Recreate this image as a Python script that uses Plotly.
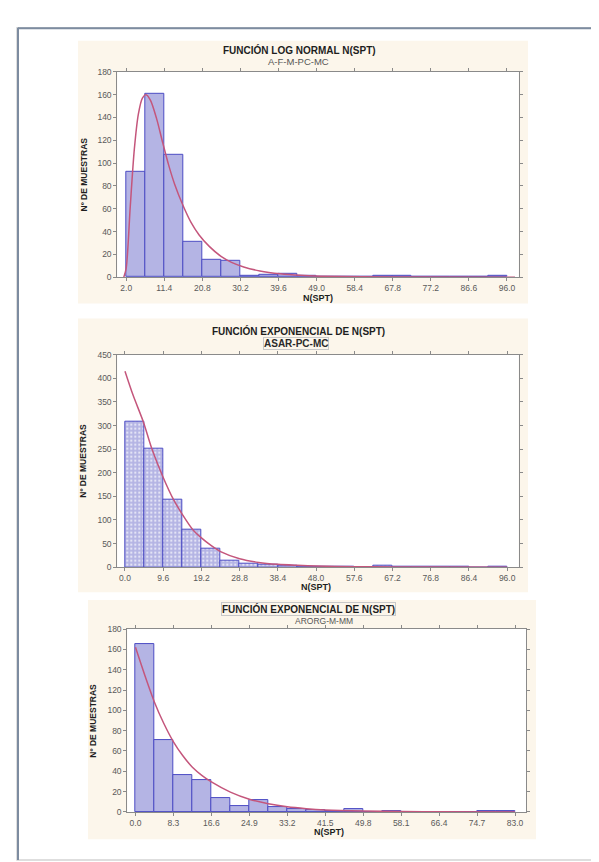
import plotly.graph_objects as go

# ---------------- data ----------------
# Panel 1: log-normal fit, A-F-M-PC-MC
p1_bin_left = [2.0, 6.7, 11.4, 16.1, 20.8, 25.5, 30.2, 34.9, 39.6, 44.3,
               49.0, 53.7, 58.4, 63.1, 67.8, 72.5, 77.2, 81.9, 86.6, 91.3]
p1_bin_width = 4.7
p1_counts = [92, 161, 107, 31, 15, 14, 1, 2, 3, 1, 0, 0, 0, 1, 1, 0, 0, 0, 0, 1]
p1_curve_x = [1.4, 2.0, 3.0, 4.0, 5.0, 6.0, 6.9, 8.0, 9.5, 11.0, 12.5, 14.0, 16.0,
              18.0, 20.0, 22.5, 25.5, 28.0, 31.0, 35.0, 40.0, 45.0, 50.0, 60.0, 75.0, 98.0]
p1_curve_y = [0, 8, 62, 112, 143, 157, 160, 155, 139, 118, 98, 81, 63,
              48, 37, 27, 18, 13, 9, 5.5, 3, 1.6, 0.9, 0.3, 0.1, 0]
p1_xticks = [2.0, 11.4, 20.8, 30.2, 39.6, 49.0, 58.4, 67.8, 77.2, 86.6, 96.0]

# Panel 2: exponential fit, ASAR-PC-MC
p2_bin_left = [0.0, 4.8, 9.6, 14.4, 19.2, 24.0, 28.8, 33.6, 38.4, 43.2,
               48.0, 52.8, 57.6, 62.4, 67.2, 72.0, 76.8, 81.6, 86.4, 91.2]
p2_bin_width = 4.8
p2_counts = [308, 252, 143, 80, 40, 14, 7, 6, 3, 2, 1, 1, 0, 3, 1, 2, 1, 1, 0, 2]
p2_curve_x = [0.0, 2.0, 4.6, 6.7, 9.6, 12.2, 14.4, 17.0, 19.2, 21.6, 24.0,
              28.8, 33.6, 38.4, 43.2, 48.0, 57.6, 67.2, 76.8, 96.0]
p2_curve_y = [415, 365, 308, 252, 190, 143, 112, 80, 62, 46, 33,
              18, 10, 6, 4, 2.5, 1.2, 0.6, 0.3, 0.1]
p2_xticks = [0.0, 9.6, 19.2, 28.8, 38.4, 48.0, 57.6, 67.2, 76.8, 86.4, 96.0]

# Panel 3: exponential fit, ARORG-M-MM
p3_bin_left = [0.0, 4.15, 8.3, 12.45, 16.6, 20.75, 24.9, 29.05, 33.2, 37.35,
               41.5, 45.65, 49.8, 53.95, 58.1, 62.25, 66.4, 70.55, 74.7, 78.85]
p3_bin_width = 4.15
p3_counts = [165, 71, 36, 31, 14, 6, 12, 5, 3, 2, 1, 3, 0, 1, 0, 0, 0, 0, 1, 1]
p3_curve_x = [0.0, 2.0, 4.15, 6.2, 8.3, 10.4, 12.45, 14.5, 16.6, 20.75, 24.9,
              29.05, 33.2, 37.35, 41.5, 49.8, 58.1, 66.4, 83.0]
p3_curve_y = [162, 135, 108, 87, 69, 55, 44, 36, 29.5, 19.5, 12.5,
              8, 5, 3.2, 2, 0.9, 0.4, 0.2, 0]
p3_xticks = [0.0, 8.3, 16.6, 24.9, 33.2, 41.5, 49.8, 58.1, 66.4, 74.7, 83.0]

titles = ["FUNCIÓN LOG NORMAL N(SPT)", "FUNCIÓN EXPONENCIAL DE N(SPT)", "FUNCIÓN EXPONENCIAL DE N(SPT)"]
subtitles = ["A-F-M-PC-MC", "ASAR-PC-MC", "ARORG-M-MM"]
x_title = "N(SPT)"
y_title = "Nº DE MUESTRAS"

# ---------------- layout helpers ----------------
W, H = 599, 862
FONT = "Liberation Sans, Arial, sans-serif"
BAR_FILL = "#b4b4e4"
BAR_LINE = "#4c4cc4"
CURVE = "#c4567c"
AXIS = "#8a8a8a"
BEIGE = "#fcf6eb"


def px(x):
    return x / W


def py(y):
    return 1 - y / H


# plot-area pixel boxes: (left, top, right, bottom)
boxes = [(109.3, 59.5, 510.7, 267.3),
         (109.3, 345.7, 510.7, 560.7),
         (119.3, 623.3, 518.0, 808.3)]
xranges = [[-0.2, 98.9], [-1.93, 98.9], [-1.79, 85.4]]
yranges = [[0, 180], [0, 450], [0, 180]]
ydticks = [20, 50, 20]
beige_boxes = [(70, 28, 520, 294), (70, 309, 520, 586), (80, 594, 528, 836)]
title_pos = [(291, 37), (290, 322), (300, 603)]
sub_pos = [(290, 49), (288, 334), (316, 615.5)]
sub_sizes = [9.5, 10, 8.5]
ytitle_pos = [(76, 163.4), (75, 453), (85, 716)]
xtitle_pos = [(310, 288), (308, 581), (321, 829)]

fig = go.Figure()

panels = [
    (p1_bin_left, p1_bin_width, p1_counts, p1_curve_x, p1_curve_y, p1_xticks),
    (p2_bin_left, p2_bin_width, p2_counts, p2_curve_x, p2_curve_y, p2_xticks),
    (p3_bin_left, p3_bin_width, p3_counts, p3_curve_x, p3_curve_y, p3_xticks),
]

shapes = []
annotations = []

# page frame
shapes.append(dict(type="rect", xref="paper", yref="paper", x0=px(9), x1=px(591),
                   y0=py(857), y1=py(15), line=dict(color="#d4d4d4", width=1.5),
                   fillcolor="rgba(0,0,0,0)", layer="below"))
shapes.append(dict(type="line", xref="paper", yref="paper", x0=px(10), x1=px(591),
                   y0=py(15.5), y1=py(15.5), line=dict(color="#7d8ca0", width=2), layer="below"))
shapes.append(dict(type="line", xref="paper", yref="paper", x0=px(10), x1=px(10),
                   y0=py(15), y1=py(857), line=dict(color="#7d8ca0", width=2), layer="below"))

for i, (bl, bw, cnt, cx, cy, xt) in enumerate(panels):
    n = "" if i == 0 else str(i + 1)
    xa, ya = "x" + n, "y" + n
    l, t, r, b = boxes[i]

    # beige panel background and white plot area
    bl_, bt_, br_, bb_ = beige_boxes[i]
    shapes.append(dict(type="rect", xref="paper", yref="paper", x0=px(bl_), x1=px(br_),
                       y0=py(bb_), y1=py(bt_), line=dict(width=0), fillcolor=BEIGE, layer="below"))
    shapes.append(dict(type="rect", xref="paper", yref="paper", x0=px(l), x1=px(r),
                       y0=py(b), y1=py(t), line=dict(width=0), fillcolor="white", layer="below"))

    marker = dict(color=BAR_FILL, line=dict(color=BAR_LINE, width=1))
    if i == 1:
        marker["pattern"] = dict(shape=".", size=4, solidity=0.25,
                                 fgcolor="#e6e6f6", bgcolor=BAR_FILL, fillmode="replace")
    fig.add_trace(go.Bar(x=bl, y=cnt, width=[bw] * len(bl), offset=0, marker=marker,
                         xaxis=xa, yaxis=ya, showlegend=False))
    fig.add_trace(go.Scatter(x=cx, y=cy, mode="lines", line=dict(color=CURVE, width=1.5, shape="spline",
                                                                   smoothing=0.8),
                             xaxis=xa, yaxis=ya, showlegend=False, cliponaxis=True))

    axis_common = dict(showline=True, linecolor=AXIS, linewidth=1, mirror="ticks",
                       ticks="outside", ticklen=3, tickcolor=AXIS, showgrid=False, zeroline=False,
                       tickfont=dict(family=FONT, size=8.5, color="#5a5a5a"))
    xkey = "xaxis" if i == 0 else "xaxis" + n
    ykey = "yaxis" if i == 0 else "yaxis" + n
    fig.layout[xkey] = dict(domain=[px(l), px(r)], range=xranges[i], anchor=ya,
                            tickvals=xt, ticktext=["%.1f" % v for v in xt], **axis_common)
    fig.layout[ykey] = dict(domain=[py(b), py(t)], range=yranges[i], anchor=xa,
                            dtick=ydticks[i], tick0=0, **axis_common)

    # titles
    tx, ty = title_pos[i]
    annotations.append(dict(xref="paper", yref="paper", x=px(tx), y=py(ty), text="<b>%s</b>" % titles[i],
                            showarrow=False, xanchor="center", yanchor="middle",
                            font=dict(family=FONT, size=10, color="#1e1e1e"),
                            bordercolor="#c8c8c8" if i == 2 else None, borderwidth=1 if i == 2 else 0,
                            borderpad=0))
    sx, sy = sub_pos[i]
    sub_text = "<b>%s</b>" % subtitles[i] if i == 1 else subtitles[i]
    annotations.append(dict(xref="paper", yref="paper", x=px(sx), y=py(sy), text=sub_text,
                            showarrow=False, xanchor="center", yanchor="middle",
                            font=dict(family=FONT, size=sub_sizes[i],
                                      color="#2a2a2a" if i == 1 else "#555555"),
                            bordercolor="#c8c8c8" if i == 1 else None, borderwidth=1 if i == 1 else 0,
                            borderpad=0))
    yx, yy = ytitle_pos[i]
    annotations.append(dict(xref="paper", yref="paper", x=px(yx), y=py(yy), text="<b>%s</b>" % y_title,
                            showarrow=False, textangle=-90, xanchor="center", yanchor="middle",
                            font=dict(family=FONT, size=8.5, color="#1e1e1e")))
    xx, xy = xtitle_pos[i]
    annotations.append(dict(xref="paper", yref="paper", x=px(xx), y=py(xy), text="<b>%s</b>" % x_title,
                            showarrow=False, xanchor="center", yanchor="middle",
                            font=dict(family=FONT, size=9, color="#1e1e1e")))

fig.update_layout(width=W, height=H, margin=dict(l=0, r=0, t=0, b=0),
                  paper_bgcolor="white", plot_bgcolor="rgba(0,0,0,0)",
                  shapes=shapes, annotations=annotations, bargap=0, showlegend=False,
                  font=dict(family=FONT))

fig.write_html("out.html")
